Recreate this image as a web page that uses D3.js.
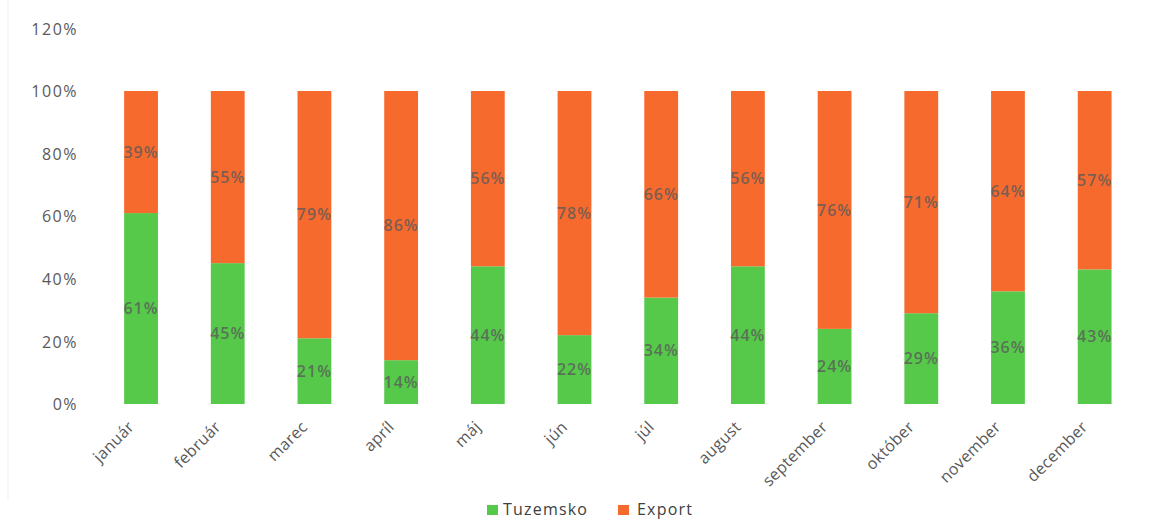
<!DOCTYPE html>
<html>
<head>
<meta charset="utf-8">
<script src="https://cdn.jsdelivr.net/npm/d3@7"></script>
<style>
  html, body { margin: 0; padding: 0; background: #fff; }
  svg { display: block; }
  text { font-family: "Open Sans", "DejaVu Sans", sans-serif; }
</style>
</head>
<body>
<svg id="chart" width="1155" height="520"></svg>
<script>
const months = ["január","február","marec","apríl","máj","jún","júl","august","september","október","november","december"];
const tuzemsko = [61,45,21,14,44,22,34,44,24,29,36,43];
const exportVals = [39,55,79,86,56,78,66,56,76,71,64,57];
const yTicks = [0,20,40,60,80,100,120];
const seriesNames = ["Tuzemsko","Export"];
const seriesColors = ["#56c94b","#f76a2d"];

const rows = months.map((m,i)=>({month:m, Tuzemsko:tuzemsko[i], Export:exportVals[i]}));
const stack = d3.stack().keys(seriesNames)(rows);

const svg = d3.select("#chart");
const x = d3.scaleBand().domain(months).range([97.7, 1138]).paddingInner(0.61).paddingOuter(0.305);
const y = d3.scaleLinear().domain([0,120]).range([404, 28.4]);

// faint frame edge
svg.append("line").attr("x1",8).attr("x2",8).attr("y1",0).attr("y2",500)
  .attr("stroke","#f0f0f0").attr("stroke-width",1);

// y axis
const yAxis = d3.axisLeft(y).tickValues(yTicks).tickFormat(d=>d+"%").tickSize(0).tickPadding(0);
const gy = svg.append("g").attr("transform","translate(78,0)").call(yAxis);
gy.select(".domain").remove();
gy.selectAll("text").attr("fill","#595959").attr("font-size","16px")
  .style("letter-spacing","1.5px").attr("dy","0.35em");

// bars
const color = d3.scaleOrdinal().domain(seriesNames).range(seriesColors);
const layers = svg.append("g").selectAll("g").data(stack).join("g").attr("fill",d=>color(d.key));
layers.selectAll("rect").data(d=>d).join("rect")
  .attr("x",d=>x(d.data.month)).attr("width",x.bandwidth())
  .attr("y",d=>y(d[1])).attr("height",d=>y(d[0])-y(d[1]));

// data labels
const lbl = svg.append("g").selectAll("g").data(stack).join("g");
lbl.selectAll("text").data(d=>d.map(v=>({v, key:d.key}))).join("text")
  .attr("x",d=>x(d.v.data.month)+x.bandwidth()/2)
  .attr("y",d=>y((d.v[0]+d.v[1])/2))
  .attr("dy","0.35em")
  .attr("text-anchor","middle")
  .attr("font-size","16px").attr("font-weight","600")
  .style("letter-spacing","1px")
  .attr("fill","#5a5a5a").attr("fill-opacity",0.8)
  .text(d=>d.v.data[d.key]+"%");

// x axis
const xAxis = d3.axisBottom(x).tickSize(0).tickPadding(0);
const gx = svg.append("g").attr("transform","translate(0,404)").call(xAxis);
gx.select(".domain").remove();
gx.selectAll("text")
  .attr("fill","#595959").attr("font-size","16px")
  .style("letter-spacing","0.3px")
  .attr("text-anchor","end")
  .attr("dy","0")
  .attr("transform","translate(-6,24) rotate(-45)");

// legend
const legend = svg.append("g");
const legendItems = [{name:"Tuzemsko", sx:487, tx:503},{name:"Export", sx:618, tx:637}];
legendItems.forEach((it,i)=>{
  legend.append("rect").attr("x",it.sx).attr("y",505).attr("width",11).attr("height",10)
    .attr("fill",seriesColors[i]);
  legend.append("text").attr("x",it.tx).attr("y",515).attr("font-size","16px")
    .style("letter-spacing","1.2px").attr("fill","#404040").text(it.name);
});
</script>
</body>
</html>
